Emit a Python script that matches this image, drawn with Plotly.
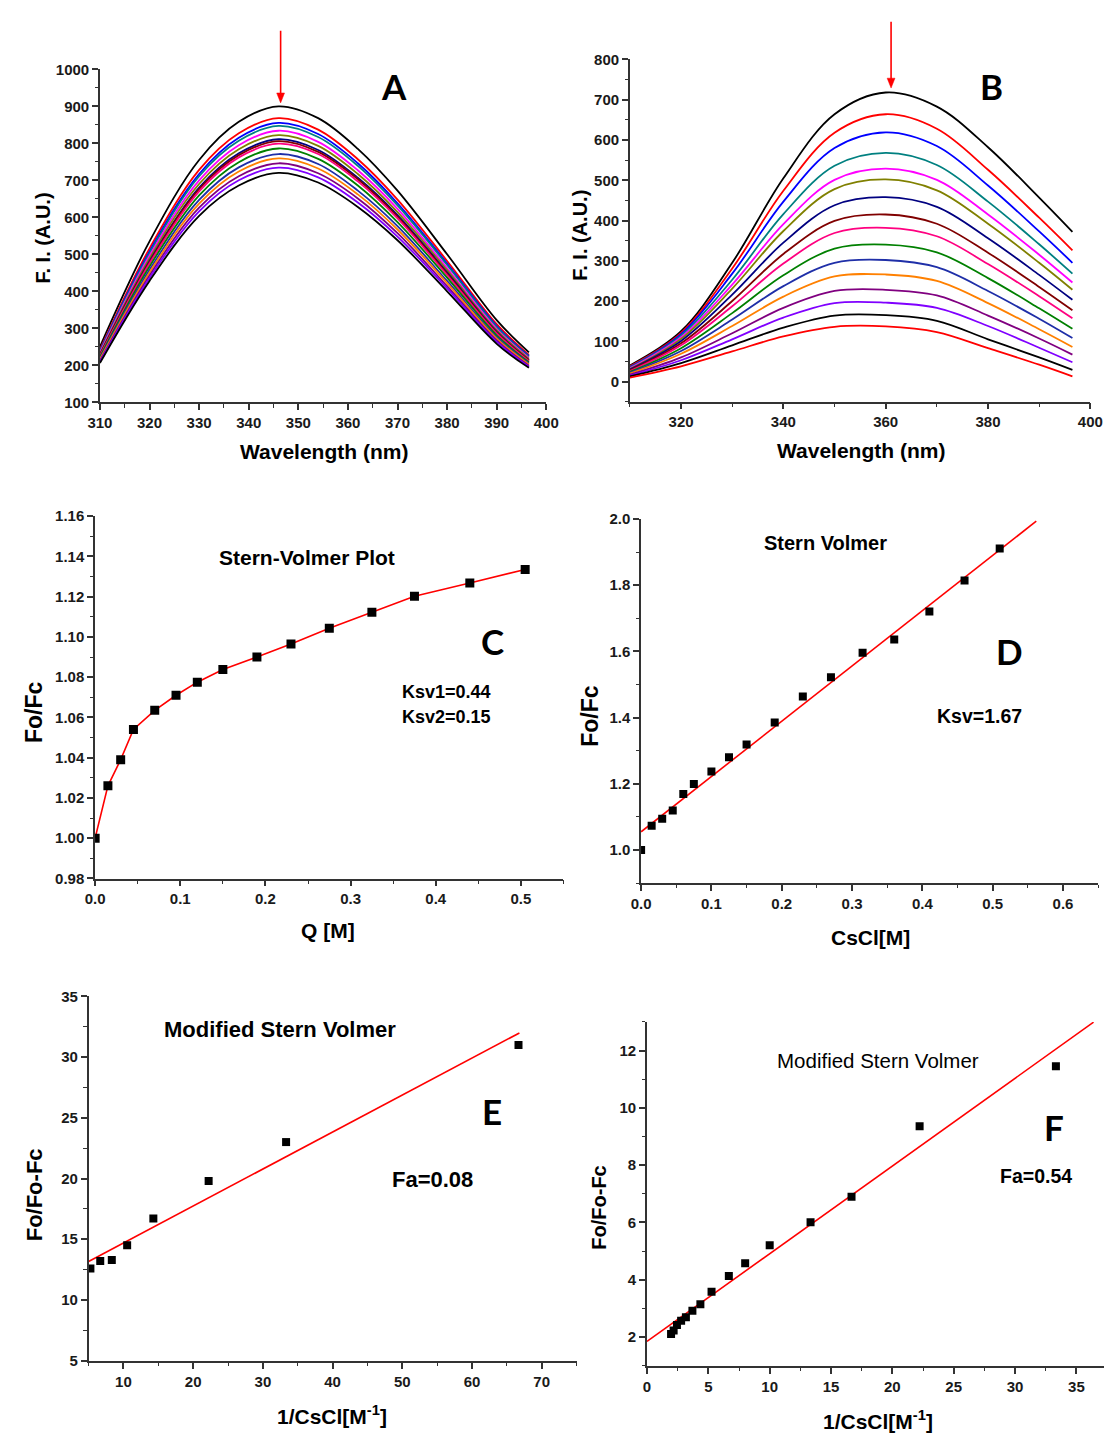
import plotly.graph_objects as go

W, H = 1117, 1439

# ---------------- Panel A: emission spectra (15 titration steps) ----------------
wl_a = [310, 320, 330, 338, 346, 354, 362, 370, 380, 390, 396.5]
fi_a = [
    [250, 535, 755, 858, 900, 868, 785, 672, 500, 322, 235],
    [242, 516, 728, 827, 868, 837, 757, 648, 482, 311, 228],
    [239, 508, 717, 815, 855, 825, 746, 638, 475, 306, 225],
    [237, 503, 711, 807, 847, 817, 739, 632, 471, 303, 223],
    [234, 496, 700, 795, 834, 804, 727, 623, 463, 298, 220],
    [231, 489, 690, 784, 822, 793, 717, 614, 457, 294, 217],
    [228, 482, 680, 773, 811, 782, 707, 606, 451, 290, 214],
    [227, 479, 676, 768, 806, 777, 703, 602, 448, 288, 213],
    [225, 475, 670, 762, 799, 771, 697, 597, 444, 286, 211],
    [222, 467, 659, 749, 786, 758, 686, 587, 437, 281, 208],
    [218, 458, 647, 735, 771, 744, 672, 576, 428, 276, 205],
    [216, 451, 637, 724, 759, 732, 662, 567, 422, 272, 202],
    [212, 443, 626, 711, 746, 719, 651, 557, 414, 267, 199],
    [209, 436, 616, 700, 734, 708, 640, 548, 408, 263, 196],
    [206, 428, 604, 686, 720, 694, 628, 538, 400, 258, 193],
]

# ---------------- Panel B: emission spectra (16 titration steps) ----------------
wl_b = [310, 320, 330, 340, 350, 360, 370, 380, 390, 396.5]
fi_b = [
    [40, 125, 295, 505, 664, 718, 683, 582, 457, 372],
    [38, 121, 281, 474, 618, 664, 628, 526, 407, 326],
    [36, 118, 268, 447, 580, 619, 585, 487, 373, 295],
    [35, 114, 253, 416, 536, 568, 538, 447, 341, 268],
    [33, 110, 241, 391, 501, 529, 501, 415, 315, 246],
    [31, 106, 231, 374, 478, 502, 475, 392, 295, 228],
    [30, 101, 216, 345, 438, 458, 434, 356, 265, 203],
    [28, 95, 200, 317, 399, 415, 392, 320, 235, 177],
    [26, 90, 187, 293, 369, 382, 361, 292, 212, 157],
    [24, 83, 170, 264, 330, 340, 321, 257, 182, 131],
    [22, 76, 154, 237, 295, 302, 284, 225, 156, 108],
    [20, 69, 138, 211, 261, 266, 250, 195, 130, 86],
    [17, 60, 120, 183, 225, 228, 214, 164, 107, 67],
    [15, 53, 105, 159, 195, 196, 183, 138, 84, 48],
    [13, 46, 90, 134, 164, 165, 151, 105, 60, 29],
    [10, 38, 75, 112, 136, 137, 123, 83, 42, 13],
]

curve_colors = ["#000000", "#FF0000", "#0000FF", "#008080", "#FF00FF", "#808000",
                "#000080", "#800000", "#FF0080", "#008000", "#1F2FA8", "#FF8000",
                "#800080", "#8000FF", "#000000", "#FF0000"]

# ---------------- Panel C: Stern-Volmer plot ----------------
q_c = [0.0, 0.015, 0.03, 0.045, 0.07, 0.095, 0.12, 0.15, 0.19, 0.23, 0.275, 0.325, 0.375, 0.44, 0.505]
f_c = [1.000, 1.026, 1.039, 1.054, 1.0635, 1.071, 1.0775, 1.0838, 1.090, 1.0965, 1.1043, 1.1123, 1.1202, 1.1268, 1.1335]

# ---------------- Panel D: Stern Volmer, CsCl ----------------
q_d = [0.0, 0.015, 0.03, 0.045, 0.06, 0.075, 0.10, 0.125, 0.15, 0.19, 0.23, 0.27, 0.315, 0.36, 0.41, 0.46, 0.51]
f_d = [1.000, 1.073, 1.094, 1.119, 1.169, 1.199, 1.237, 1.280, 1.319, 1.385, 1.464, 1.522, 1.596, 1.636, 1.721, 1.814, 1.911]
ksv_d = 1.67
icpt_d = 1.055
fit_x_d = [0.0, 0.562]

# ---------------- Panel E: modified Stern Volmer ----------------
inv_e = [5.26, 6.67, 8.33, 10.53, 14.29, 22.22, 33.33, 66.67]
f_e = [12.6, 13.2, 13.3, 14.5, 16.7, 19.8, 23.0, 31.0]
slope_e = 0.3044
icpt_e = 11.65
fit_x_e = [5.0, 66.8]

# ---------------- Panel F: modified Stern Volmer ----------------
inv_f = [1.96, 2.17, 2.44, 2.78, 3.17, 3.70, 4.35, 5.26, 6.67, 8.0, 10.0, 13.33, 16.67, 22.22, 33.33]
f_f = [2.11, 2.23, 2.42, 2.57, 2.69, 2.92, 3.15, 3.58, 4.13, 4.58, 5.21, 6.01, 6.90, 9.36, 11.45]
fa_f = 0.54
slope_f = 0.306
fit_x_f = [0.0, 36.4]

ARIAL = "Liberation Sans, Arial, sans-serif"
LETTER = "Lato, Open Sans, sans-serif"
AX = "#333333"


def px(x):
    return x / W


def py(y):
    return 1 - y / H


def axis(x0, x1, rng, dtick, tick0, minor, fmt=None):
    d = dict(domain=[x0, x1], range=rng, dtick=dtick, tick0=tick0,
             showline=True, linecolor=AX, linewidth=1.5, mirror=False,
             ticks="outside", ticklen=6, tickwidth=1.5, tickcolor=AX,
             showgrid=False, zeroline=False,
             tickfont=dict(family=ARIAL, size=15, color="#1a1a1a", weight="bold"),
             minor=dict(ticks="outside", ticklen=3.5, tickwidth=1.2, tickcolor=AX, dtick=minor))
    if fmt:
        d["tickformat"] = fmt
    return d


fig = go.Figure()

# Panel A
for i, ys in enumerate(fi_a):
    fig.add_trace(go.Scatter(x=wl_a, y=ys, mode="lines", line=dict(color=curve_colors[i], width=1.8, shape="spline"),
                             xaxis="x", yaxis="y"))
# Panel B
for i, ys in enumerate(fi_b):
    fig.add_trace(go.Scatter(x=wl_b, y=ys, mode="lines", line=dict(color=curve_colors[i], width=1.8, shape="spline"),
                             xaxis="x2", yaxis="y2"))
# Panel C
fig.add_trace(go.Scatter(x=q_c, y=f_c, mode="lines+markers", line=dict(color="red", width=1.6),
                         marker=dict(symbol="square", size=9, color="black"), xaxis="x3", yaxis="y3"))
# Panel D
fig.add_trace(go.Scatter(x=fit_x_d, y=[icpt_d + ksv_d * v for v in fit_x_d], mode="lines",
                         line=dict(color="red", width=1.6), xaxis="x4", yaxis="y4"))
fig.add_trace(go.Scatter(x=q_d, y=f_d, mode="markers", marker=dict(symbol="square", size=8, color="black"),
                         xaxis="x4", yaxis="y4"))
# Panel E
fig.add_trace(go.Scatter(x=fit_x_e, y=[icpt_e + slope_e * v for v in fit_x_e], mode="lines",
                         line=dict(color="red", width=1.6), xaxis="x5", yaxis="y5"))
fig.add_trace(go.Scatter(x=inv_e, y=f_e, mode="markers", marker=dict(symbol="square", size=8, color="black"),
                         xaxis="x5", yaxis="y5"))
# Panel F
fig.add_trace(go.Scatter(x=fit_x_f, y=[1 / fa_f + slope_f * v for v in fit_x_f], mode="lines",
                         line=dict(color="red", width=1.6), xaxis="x6", yaxis="y6"))
fig.add_trace(go.Scatter(x=inv_f, y=f_f, mode="markers", marker=dict(symbol="square", size=8, color="black"),
                         xaxis="x6", yaxis="y6"))

layout = dict(
    width=W, height=H, margin=dict(l=0, r=0, t=0, b=0),
    paper_bgcolor="white", plot_bgcolor="white", showlegend=False,
)

layout["xaxis"] = axis(px(89), px(546), [310, 400], 10, 310, 5)
layout["yaxis"] = axis(0, 1, [99.9, 1000.1], 100, 100, 50)
layout["xaxis"]["anchor"] = "y"
layout["yaxis"]["domain"] = [py(398), py(61)]
layout["yaxis"]["anchor"] = "x"

layout["xaxis2"] = axis(px(631.6), px(1103), [310, 400], 20, 320, 10)
layout["yaxis2"] = axis(0, 1, [-50, 800.2], 100, 0, 50)
layout["xaxis2"]["anchor"] = "y2"
layout["yaxis2"]["domain"] = [py(397.4), py(51)]
layout["yaxis2"]["anchor"] = "x2"

layout["xaxis3"] = axis(px(84), px(563.6), [-0.0001, 0.55], 0.1, 0, 0.05, ".1f")
layout["yaxis3"] = axis(0, 1, [0.9799, 1.1601], 0.02, 0.98, 0.01, ".2f")
layout["xaxis3"]["anchor"] = "y3"
layout["yaxis3"]["domain"] = [py(880), py(513)]
layout["yaxis3"]["anchor"] = "x3"

layout["xaxis4"] = axis(px(643), px(1111), [-0.0001, 0.65], 0.1, 0, 0.05, ".1f")
layout["yaxis4"] = axis(0, 1, [0.9, 2.0005], 0.2, 1.0, 0.1, ".1f")
layout["xaxis4"]["anchor"] = "y4"
layout["yaxis4"]["domain"] = [py(884.5), py(516)]
layout["yaxis4"]["anchor"] = "x4"

layout["xaxis5"] = axis(px(77.4), px(577), [5, 75], 10, 0, 5)
layout["yaxis5"] = axis(0, 1, [4.99, 35.01], 5, 0, 2.5)
layout["xaxis5"]["anchor"] = "y5"
layout["yaxis5"]["domain"] = [py(1368), py(999)]
layout["yaxis5"]["anchor"] = "x5"

layout["xaxis6"] = axis(px(649), 1.0, [-0.01, 37.25], 5, 0, 2.5)
layout["yaxis6"] = axis(0, 1, [1, 13], 2, 0, 1)
layout["xaxis6"]["anchor"] = "y6"
layout["yaxis6"]["domain"] = [py(1373), py(1025)]
layout["yaxis6"]["anchor"] = "x6"

# downward arrows marking the emission maxima
shapes = []
for xa, ytip, ytail in [(274, 95, 22), (899, 80, 13)]:
    shapes.append(dict(type="line", xref="paper", yref="paper", x0=px(xa), x1=px(xa),
                       y0=py(ytail), y1=py(ytip - 8), line=dict(color="red", width=1.6)))
    shapes.append(dict(type="path", xref="paper", yref="paper",
                       path=f"M {px(xa - 4)} {py(ytip - 10)} L {px(xa + 4)} {py(ytip - 10)} L {px(xa)} {py(ytip)} Z",
                       fillcolor="red", line=dict(color="red", width=0.5)))
layout["shapes"] = shapes

fig.update_layout(**layout)


def label(text, x, y, size, bold=True, family=ARIAL, angle=0, xanchor="center"):
    fig.add_annotation(text=text, x=px(x), y=py(y), xref="paper", yref="paper",
                       showarrow=False, textangle=angle, xanchor=xanchor, yanchor="middle",
                       font=dict(family=family, size=size, color="black",
                                 weight="bold" if bold else "normal"))


# axis titles
label("F. I. (A.U.)", 31, 232, 20, angle=-90)
label("Wavelength (nm)", 318, 448, 21)
label("F. I. (A.U.)", 581, 229, 20, angle=-90)
label("Wavelength (nm)", 868, 447, 21)
label("Fo/Fc", 21, 712, 23, angle=-90)
label("Q [M]", 323, 933, 21)
label("Fo/Fc", 590, 715, 23, angle=-90)
label("CsCl[M]", 878, 940, 21)
label("Fo/Fo-Fc", 22, 1200, 22, angle=-90)
label("1/CsCl[M<sup>-1</sup>]", 327, 1423, 21)
label("Fo/Fo-Fc", 600, 1213, 20, angle=-90)
label("1/CsCl[M<sup>-1</sup>]", 886, 1428, 21)

# panel letters
label("A", 390, 78, 35, family=LETTER)
label("B", 1002, 78, 35, family=LETTER)
label("C", 491, 640, 35, family=LETTER)
label("D", 1020, 650, 35, family=LETTER)
label("E", 490, 1115, 35, family=LETTER)
label("F", 1066, 1131, 35, family=LETTER)

# in-plot notes
label("Stern-Volmer Plot", 301, 555, 21)
label("Ksv1=0.44", 396, 691, 18, xanchor="left")
label("Ksv2=0.15", 396, 716, 18, xanchor="left")
label("Stern Volmer", 832, 540, 20)
label("Ksv=1.67", 944, 715, 19.5, xanchor="left")
label("Modified Stern Volmer", 273, 1033, 22)
label("Fa=0.08", 386, 1184, 22, xanchor="left")
label("Modified Stern Volmer", 886, 1064, 20.5, bold=False)
label("Fa=0.54", 1008, 1181, 19.5, xanchor="left")

fig.write_html("out.html")
